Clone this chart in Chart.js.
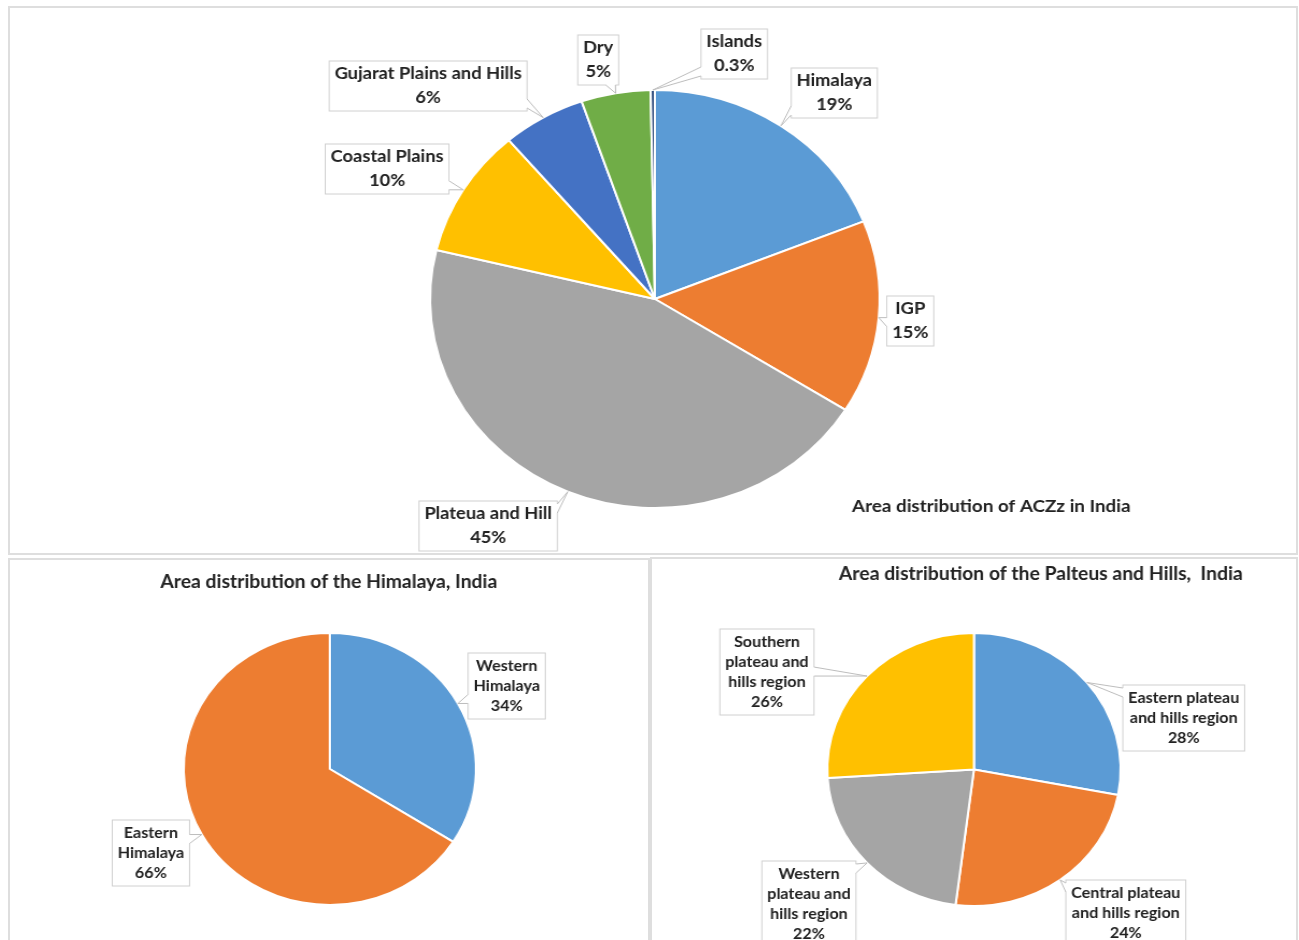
<!DOCTYPE html>
<html>
<head>
<meta charset="utf-8">
<script src="https://cdn.jsdelivr.net/npm/chart.js@4.4.1/dist/chart.umd.min.js"></script>
<style>
  body { margin: 0; background: #fff; }
  #page { position: relative; width: 1299px; height: 940px; overflow: hidden; }
  .panel { position: absolute; border: 2px solid #dedede; box-sizing: border-box; }
  canvas { position: absolute; }
</style>
</head>
<body>
<div id="page">
  <div class="panel" style="left:8px;top:6px;width:1290px;height:549px"></div>
  <div class="panel" style="left:8px;top:558px;width:642px;height:400px"></div>
  <div class="panel" style="left:650px;top:557px;width:648px;height:400px"></div>
  <canvas id="topChart" width="1208" height="556" style="left:0;top:0;width:1299px;height:556px"></canvas>
  <canvas id="himChart" width="605" height="384" style="left:0;top:556px;width:650px;height:384px"></canvas>
  <canvas id="platChart" width="604" height="384" style="left:650px;top:556px;width:649px;height:384px"></canvas>
</div>
<script>
// the original picture is a little wider than tall, so every canvas is stretched by this
const SX = 1.075;

const aczLabels = ['Himalaya', 'IGP', 'Plateua and Hill', 'Coastal Plains', 'Gujarat Plains and Hills', 'Dry', 'Islands'];
const aczValues = [19, 15, 45, 10, 6, 5, 0.3];
const aczColors = ['#5b9bd5', '#ed7d31', '#a5a5a5', '#ffc000', '#4472c4', '#70ad47', '#264478'];

const himLabels = [['Western', 'Himalaya'], ['Eastern', 'Himalaya']];
const himValues = [34, 66];
const himColors = ['#5b9bd5', '#ed7d31'];

const platLabels = [
  ['Eastern plateau', 'and hills region'],
  ['Central plateau', 'and hills region'],
  ['Western', 'plateau and', 'hills region'],
  ['Southern', 'plateau and', 'hills region']
];
const platValues = [28, 24, 22, 26];
const platColors = ['#5b9bd5', '#ed7d31', '#a5a5a5', '#ffc000'];

const callouts = {
  id: 'callouts',
  afterDatasetsDraw(chart, args, opts) {
    const ctx = chart.ctx;
    const meta = chart.getDatasetMeta(0);
    const labels = chart.data.labels;
    const values = chart.data.datasets[0].data;
    ctx.save();
    meta.data.forEach((arc, i) => {
      const p = arc.getProps(['x', 'y', 'startAngle', 'endAngle', 'outerRadius'], true);
      const mid = (p.startAngle + p.endAngle) / 2;
      const tx = p.x + Math.cos(mid) * p.outerRadius;
      const ty = p.y + Math.sin(mid) * p.outerRadius;

      const lines = [].concat(labels[i], values[i] + '%');
      ctx.font = opts.font;
      let w = 0;
      lines.forEach(l => { w = Math.max(w, ctx.measureText(l).width); });
      w += 2 * opts.padX;
      const h = lines.length * opts.lineH + 2 * opts.padY;
      const cx = opts.boxes[i][0] / SX, cy = opts.boxes[i][1];
      const left = cx - w / 2, right = cx + w / 2, top = cy - h / 2, bottom = cy + h / 2;

      ctx.fillStyle = '#fff';
      ctx.strokeStyle = '#d0d0d0';
      ctx.lineWidth = 1;
      ctx.fillRect(left, top, w, h);
      ctx.strokeRect(left, top, w, h);

      // wedge from the box side facing the slice
      const dxOut = Math.max(left - tx, tx - right, 0);
      const dyOut = Math.max(top - ty, ty - bottom, 0);
      let b0, b1, in0, in1;
      if (dxOut >= dyOut) {
        const sx = tx < cx ? left : right;
        const y0 = Math.min(Math.max(ty, top + 3), bottom - 3);
        const y1 = y0 + (y0 < cy ? 9 : -9);
        const ix = sx + (tx < cx ? 2 : -2);
        b0 = [sx, y0]; b1 = [sx, y1]; in0 = [ix, y0]; in1 = [ix, y1];
      } else {
        const sy = ty < cy ? top : bottom;
        const x0 = Math.min(Math.max(tx, left + 3), right - 3);
        const x1 = x0 + (x0 < cx ? 9 : -9);
        const iy = sy + (ty < cy ? 2 : -2);
        b0 = [x0, sy]; b1 = [x1, sy]; in0 = [x0, iy]; in1 = [x1, iy];
      }
      ctx.beginPath();
      ctx.moveTo(in0[0], in0[1]);
      ctx.lineTo(b0[0], b0[1]);
      ctx.lineTo(tx, ty);
      ctx.lineTo(b1[0], b1[1]);
      ctx.lineTo(in1[0], in1[1]);
      ctx.closePath();
      ctx.fill();
      ctx.beginPath();
      ctx.moveTo(b0[0], b0[1]);
      ctx.lineTo(tx, ty);
      ctx.lineTo(b1[0], b1[1]);
      ctx.strokeStyle = '#bdbdbd';
      ctx.stroke();

      ctx.fillStyle = '#222';
      ctx.textAlign = 'center';
      ctx.textBaseline = 'middle';
      const y0 = cy - (lines.length - 1) * opts.lineH / 2;
      lines.forEach((l, k) => ctx.fillText(l, cx, y0 + k * opts.lineH));
    });

    const t = opts.title;
    ctx.font = t.font;
    ctx.fillStyle = '#222';
    ctx.textAlign = 'center';
    ctx.textBaseline = 'middle';
    ctx.fillText(t.text, t.x / SX, t.y);
    ctx.restore();
  }
};

function makePie(id, labels, values, colors, pad, calloutOpts) {
  return new Chart(document.getElementById(id), {
    type: 'pie',
    data: {
      labels: labels,
      datasets: [{
        data: values,
        backgroundColor: colors,
        borderColor: '#ffffff',
        borderWidth: 2
      }]
    },
    options: {
      responsive: false,
      animation: false,
      devicePixelRatio: 1,
      events: [],
      layout: { padding: pad },
      plugins: {
        legend: { display: false },
        tooltip: { enabled: false },
        callouts: calloutOpts
      }
    },
    plugins: [callouts]
  });
}

makePie('topChart', aczLabels, aczValues, aczColors,
  { left: 399, right: 389, top: 89, bottom: 47 },
  {
    font: 'bold 17px Lato', lineH: 24, padX: 5, padY: 1,
    boxes: [[834, 93], [910, 321], [488, 526], [387, 169], [428, 86], [598, 60], [734, 54]],
    title: { text: 'Area distribution of ACZz in India', x: 991, y: 506, font: 'bold 17.5px Lato' }
  });

makePie('himChart', himLabels, himValues, himColors,
  { left: 170, right: 161, top: 76, bottom: 34 },
  {
    font: 'bold 15px Lato', lineH: 20, padX: 5, padY: 3,
    boxes: [[507, 130], [151, 297]],
    title: { text: 'Area distribution of the Himalaya, India', x: 329, y: 26, font: 'bold 18px Lato' }
  });

makePie('platChart', platLabels, platValues, platColors,
  { left: 164, right: 165, top: 76, bottom: 33 },
  {
    font: 'bold 15px Lato', lineH: 20, padX: 5, padY: 3,
    boxes: [[534, 162], [476, 357], [159, 348], [117, 116]],
    title: { text: 'Area distribution of the Palteus and Hills,  India', x: 391, y: 18, font: 'bold 18px Lato' }
  });
</script>
</body>
</html>
